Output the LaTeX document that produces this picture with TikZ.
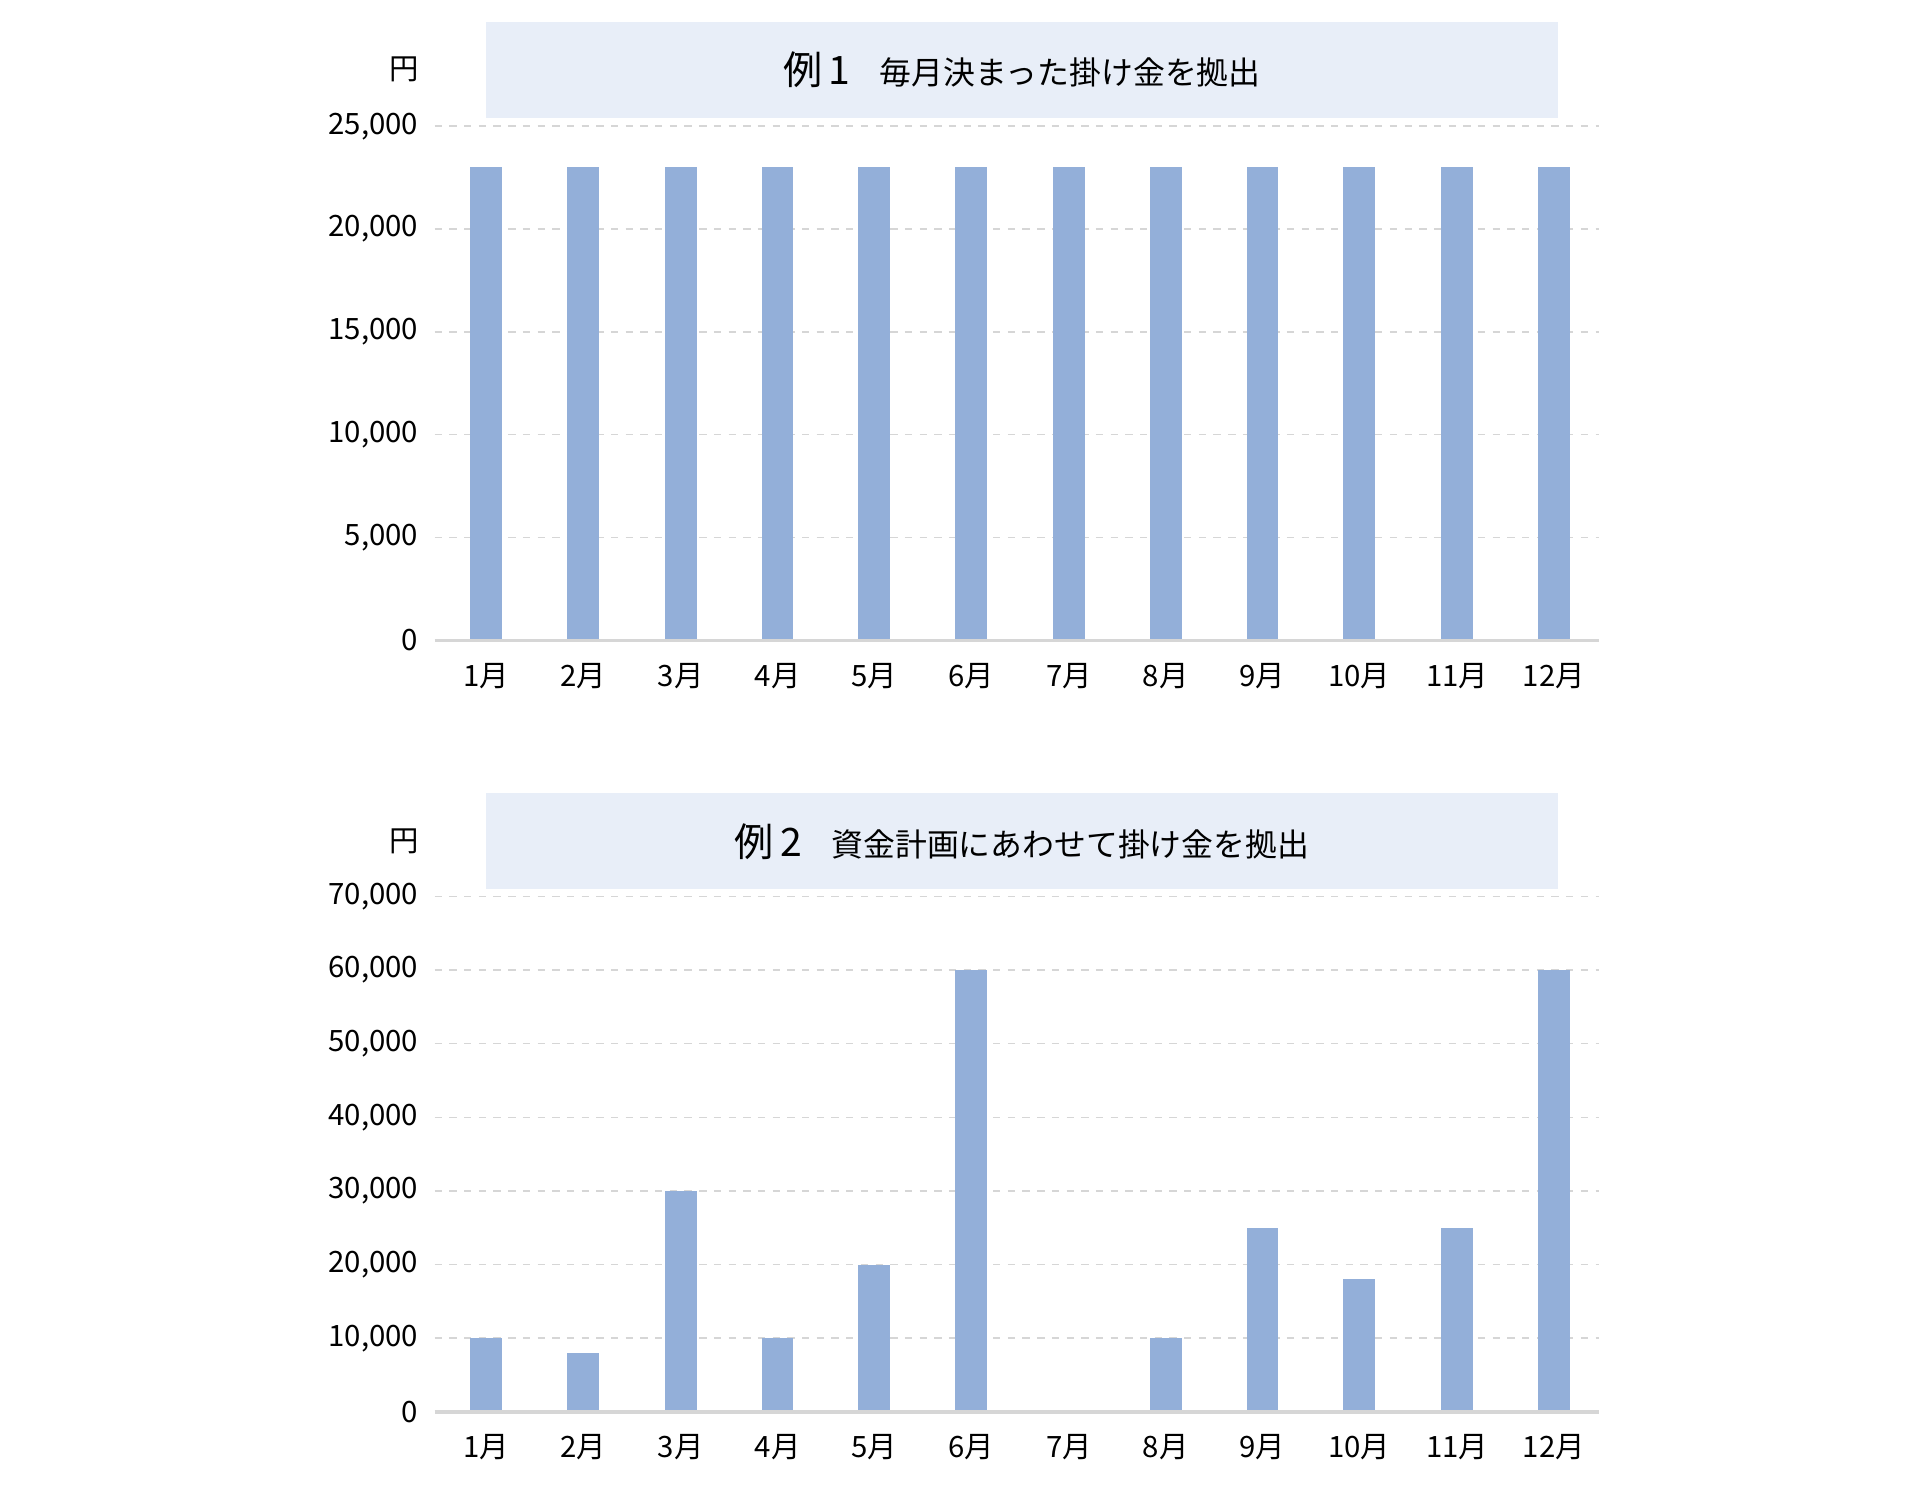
\documentclass[tikz,border=0pt]{standalone}
\usepackage{fontspec}
\setmainfont{Noto Sans CJK JP}
\definecolor{barc}{HTML}{93AFD9}
\definecolor{titlebg}{HTML}{E8EEF8}
\definecolor{gridc}{HTML}{D6D6D6}
\begin{document}
\begin{tikzpicture}[x=0.5pt,y=-0.5pt,
  bar/.style={fill=barc,draw=none},
  grid/.style={draw=gridc,dashed,line width=0.6pt},
  axisline/.style={draw=gridc,line width=1.5pt},
  ticklab/.style={anchor=east,font=\fontsize{12}{12}\selectfont,inner sep=0},
  monlab/.style={anchor=center,font=\fontsize{12}{12}\selectfont,inner sep=0},
  titlebox/.style={fill=titlebg,draw=none,minimum width=437.5pt,minimum height=39pt,inner sep=0}]
\useasboundingbox (0,0) rectangle (1568,1217);
\def\xs{397,476,556,635,714,793,873,952,1031,1110,1190,1269}
% Chart 1
\node[titlebox] (t1) at (834.5,57) {\fontsize{16}{16}\selectfont 例\,1\hspace{12pt}\fontsize{13}{13}\selectfont 毎月決まった掛け金を拠出};
\node[monlab] (u1) at (330,57) {円};
\foreach \v [count=\i from 0] in {0,5,000,10,000,15,000,20,000,25,000}{}
\foreach \lab [count=\i from 0] in {0,{5,000},{10,000},{15,000},{20,000},{25,000}}{
  \pgfmathsetmacro\yy{523-84*\i}
  \ifnum\i>0 \draw[grid] (355,\yy) -- (1306,\yy);\fi
  \node[ticklab] (a\i) at (342,\yy) {\lab};
}
\foreach \x [count=\m] in \xs{
  \fill[bar] (\x-13,523) rectangle (\x+13,136.6);
  \node[monlab] (m\m) at (\x,552) {\m 月};
}
\draw[axisline] (355,523) -- (1306,523);
% Chart 2
\node[titlebox] (t2) at (834.5,687) {\fontsize{16}{16}\selectfont 例\,2\hspace{12pt}\fontsize{13}{13}\selectfont 資金計画にあわせて掛け金を拠出};
\node[monlab] (u2) at (330,687) {円};
\foreach \lab [count=\i from 0] in {0,{10,000},{20,000},{30,000},{40,000},{50,000},{60,000},{70,000}}{
  \pgfmathsetmacro\yy{1153-60.14*\i}
  \ifnum\i>0 \draw[grid] (355,\yy) -- (1306,\yy);\fi
  \node[ticklab] (b\i) at (342,\yy) {\lab};
}
\foreach \x/\v [count=\m] in {397/10,476/8,556/30,635/10,714/20,793/60,873/0,952/10,1031/25,1110/18,1190/25,1269/60}{
  \ifnum\v>0 \fill[bar] (\x-13,1153) rectangle (\x+13,1153-6.014*\v);\fi
  \node[monlab] (n\m) at (\x,1182) {\m 月};
}
\draw[axisline] (355,1153) -- (1306,1153);
\end{tikzpicture}
\end{document}
